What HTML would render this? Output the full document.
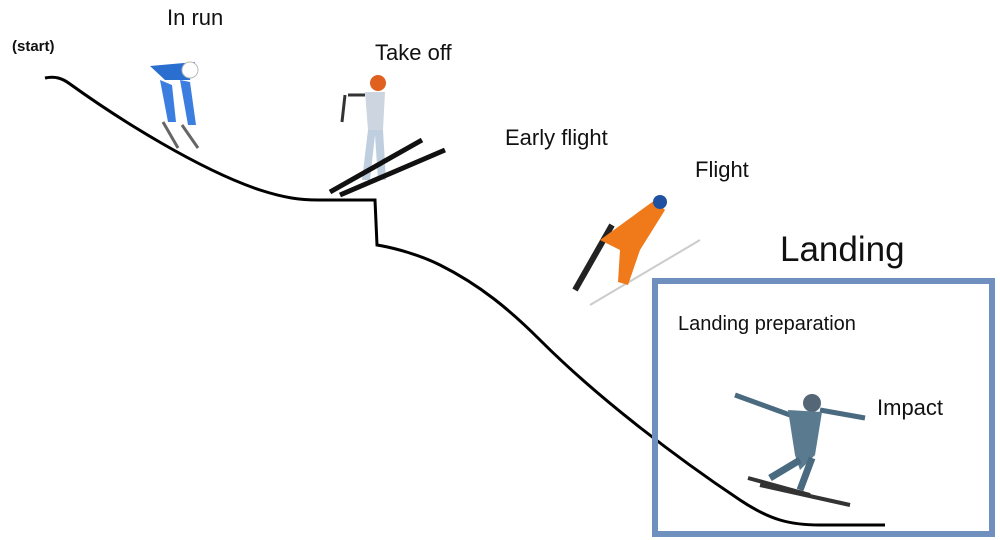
<!DOCTYPE html>
<html><head><meta charset="utf-8"><style>
html,body{margin:0;padding:0;background:#fff;}
.t{position:absolute;font-family:"Liberation Sans",sans-serif;color:#111;white-space:nowrap;}
</style></head><body>
<div style="position:relative;width:1000px;height:540px;overflow:hidden;background:#fff">
<svg width="1000" height="540" style="position:absolute;left:0;top:0">
<path d="M45,78 C55,76 62,78 70,84 C120,120 200,170 260,190 C285,198 300,200 318,200 L375,200 L377,245 C395,248 420,255 440,265 C480,285 510,310 540,340 C600,400 680,460 740,500 C770,520 790,525 820,525 L885,525" fill="none" stroke="#000" stroke-width="3"/>
<rect x="655" y="281" width="337" height="253" fill="none" stroke="#6f8fbf" stroke-width="6"/>
<g>
<path d="M150,66 L195,62 L190,80 L165,80 Z" fill="#2a6fd0"/>
<circle cx="190" cy="70" r="8" fill="#fff" stroke="#bbb"/>
<path d="M160,80 L168,122 L176,122 L172,85 Z M180,80 L188,125 L196,125 L190,82 Z" fill="#3b7ee0"/>
<path d="M163,122 L178,148 M182,125 L198,148" stroke="#666" stroke-width="3"/>
</g>
<g>
<circle cx="378" cy="83" r="8" fill="#e06020"/>
<path d="M365,92 L385,92 L383,130 L368,130 Z" fill="#cdd5e0"/>
<path d="M348,95 L365,95 M345,95 L342,122" stroke="#333" stroke-width="3"/>
<path d="M368,130 L362,180 L370,180 L375,135 L378,180 L386,180 L383,130 Z" fill="#bfcfe0"/>
<path d="M330,192 L422,140 M340,195 L445,150" stroke="#111" stroke-width="5"/>
</g>
<g>
<path d="M575,290 L612,225" stroke="#222" stroke-width="6"/>
<path d="M590,305 L700,240" stroke="#ccc" stroke-width="2"/>
<path d="M600,240 L655,200 L665,210 L640,250 L628,285 L618,282 L620,250 Z" fill="#f07a1a"/>
<circle cx="660" cy="202" r="7" fill="#2050a0"/>
</g>
<g>
<path d="M735,395 L790,415 M820,410 L865,418" stroke="#4a6a80" stroke-width="5"/>
<circle cx="812" cy="403" r="9" fill="#556677"/>
<path d="M788,410 L822,412 L815,455 L800,470 L795,455 Z" fill="#5a7a90"/>
<path d="M800,460 L770,478 M812,458 L800,490" stroke="#4a6a80" stroke-width="7"/>
<path d="M748,478 L810,495 M760,485 L850,505" stroke="#333" stroke-width="4"/>
</g>
</svg>
<div class="t" style="left:12px;top:38px;font-size:15px;font-weight:bold">(start)</div>
<div class="t" style="left:167px;top:5px;font-size:22px">In run</div>
<div class="t" style="left:375px;top:40px;font-size:22px">Take off</div>
<div class="t" style="left:505px;top:125px;font-size:22px">Early flight</div>
<div class="t" style="left:695px;top:157px;font-size:22px">Flight</div>
<div class="t" style="left:780px;top:230px;font-size:35px">Landing</div>
<div class="t" style="left:678px;top:313px;font-size:20px">Landing preparation</div>
<div class="t" style="left:877px;top:395px;font-size:22px">Impact</div>
</div>
</body></html>
